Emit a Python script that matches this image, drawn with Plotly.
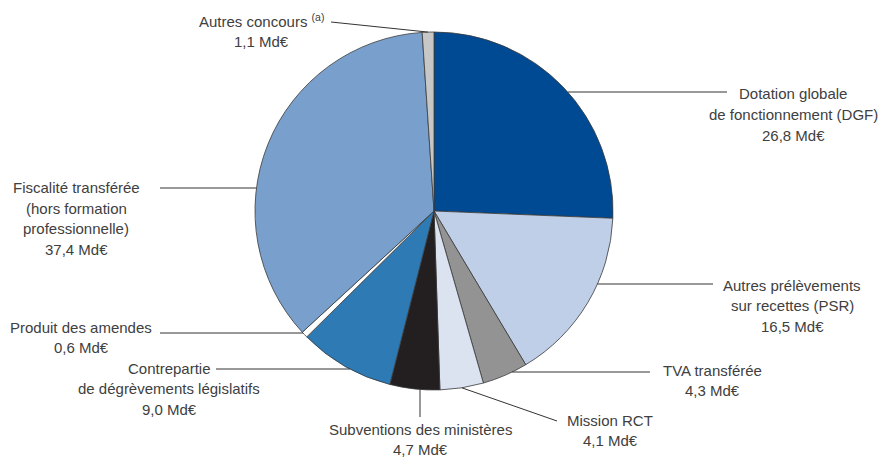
import math
import plotly.graph_objects as go

# Ressources des collectivités, en milliards d'euros (sens horaire depuis midi)
categories = [
    "Dotation globale<br>de fonctionnement (DGF)",
    "Autres prélèvements<br>sur recettes (PSR)",
    "TVA transférée",
    "Mission RCT",
    "Subventions des ministères",
    "Contrepartie<br>de dégrèvements législatifs",
    "Produit des amendes",
    "Fiscalité transférée<br>(hors formation<br>professionnelle)",
    "Autres concours <sup>(a)</sup>",
]
values = [26.8, 16.5, 4.3, 4.1, 4.7, 9.0, 0.6, 37.4, 1.1]
colors = ["#004a93", "#bfcfe7", "#939393", "#dce3f0", "#231f20",
          "#2e7ab5", "#ffffff", "#79a0cc", "#c7c7c7"]

W, H = 878, 459
CX, CY, R = 434, 211, 179  # pie centre and radius in pixels
LINE_GAP = 20.5            # spacing between label lines in pixels

# Centre x and first-line y of each label block (px)
label_pos = [(793, 94), (792, 285), (712, 370), (610, 420), (420, 429),
             (169, 368), (81, 327), (76, 188), (261, 21)]
# ("h", y, x_end, side) horizontal to pie edge; ("mid", x, y) slanted to slice middle;
# ("v", x, y_end) vertical to pie edge
leaders = [("h", 92, 727, 1), ("h", 284, 713, 1), ("h", 372, 650, 1),
           ("mid", 557, 421), ("v", 420, 417), ("h", 369, 216, -1),
           ("h", 333, 160, -1), ("h", 188, 160, -1), ("mid", 331, 22)]


def px(x):
    return x / W


def py(y):
    return 1 - y / H


fig = go.Figure(go.Pie(
    labels=[c.replace("<br>", " ") for c in categories],
    values=values,
    sort=False,
    direction="clockwise",
    rotation=0,
    textinfo="none",
    hoverinfo="label+value",
    marker=dict(colors=colors, line=dict(color="#3a3a3a", width=0.8)),
    domain=dict(x=[px(CX - R), px(CX + R)], y=[py(CY + R), py(CY - R)]),
    showlegend=False,
))

total = sum(values)
cum = 0
shapes = []
annotations = []
for name, v, (lx, ly), ld in zip(categories, values, label_pos, leaders):
    mid = (cum + v / 2) / total * 2 * math.pi
    cum += v
    if ld[0] == "h":
        _, y, xe, side = ld
        x0 = CX + side * math.sqrt(R * R - (y - CY) ** 2)
        x1, y0, y1 = xe, y, y
    elif ld[0] == "v":
        _, x, ye = ld
        x0 = x1 = x
        y0 = CY + math.sqrt(R * R - (x - CX) ** 2)
        y1 = ye
    else:
        _, x1, y1 = ld
        x0 = CX + R * math.sin(mid)
        y0 = CY - R * math.cos(mid)
    shapes.append(dict(type="line", xref="paper", yref="paper",
                       x0=px(x0), y0=py(y0), x1=px(x1), y1=py(y1),
                       line=dict(color="#333333", width=1)))
    lines = name.split("<br>") + [f"{v:.1f}".replace(".", ",") + " Md€"]
    for i, line in enumerate(lines):
        annotations.append(dict(xref="paper", yref="paper",
                                x=px(lx), y=py(ly + i * LINE_GAP),
                                xanchor="center", yanchor="middle", text=line,
                                showarrow=False, align="center", borderpad=0,
                                font=dict(family="Liberation Sans, Arial", size=15,
                                          color="#404040")))

fig.update_layout(
    width=W, height=H,
    margin=dict(l=0, r=0, t=0, b=0),
    paper_bgcolor="white", plot_bgcolor="white",
    shapes=shapes, annotations=annotations,
)

fig.write_html("out.html")
